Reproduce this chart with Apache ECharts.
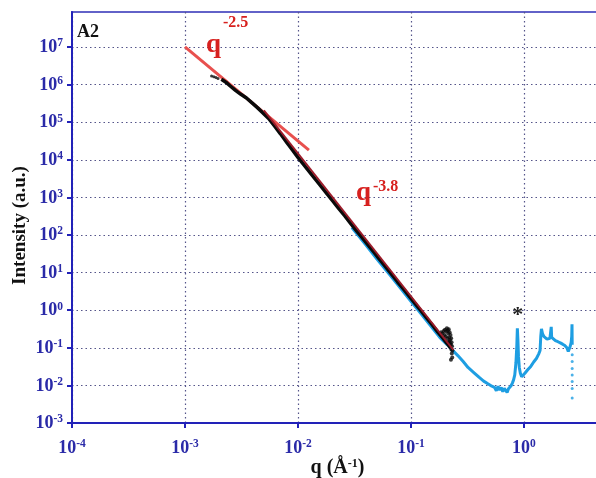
<!DOCTYPE html>
<html>
<head>
<meta charset="utf-8">
<script src="https://cdn.jsdelivr.net/npm/echarts@6/dist/echarts.min.js"></script>
<style>
  html, body { margin: 0; padding: 0; background: #ffffff; }
  #chart { width: 596px; height: 478px; }
</style>
</head>
<body>
<div id="chart"></div>
<script>
// ---- SAXS (black): main curve, q in 1/Å, intensity in a.u.
const saxsQ = [0.0021, 0.0023, 0.0025, 0.0028, 0.0031, 0.0035, 0.0039, 0.0044, 0.0049, 0.0055,
               0.0062, 0.0070, 0.0079, 0.0089, 0.0100, 0.0113, 0.0127, 0.0143, 0.0161, 0.0181,
               0.0204, 0.023, 0.026, 0.029, 0.033, 0.037, 0.042, 0.047, 0.053, 0.060,
               0.067, 0.076, 0.085, 0.096, 0.108, 0.122, 0.137, 0.154, 0.173, 0.190,
               0.205, 0.215, 0.225];
const saxsI = [1.38e6, 1.16e6, 9.3e5, 7.0e5, 5.6e5, 4.4e5, 3.3e5, 2.4e5, 1.76e5, 1.25e5,
               7.9e4, 4.9e4, 3.0e4, 1.86e4, 1.16e4, 7.3e3, 4.7e3, 3.0e3, 1.93e3, 1.24e3,
               790, 500, 320, 210, 129, 85, 53, 35, 22, 14,
               9.2, 5.7, 3.8, 2.4, 1.55, 0.98, 0.63, 0.41, 0.26, 0.185,
               0.14, 0.117, 0.098];
// isolated points at the lowest q
const saxsLowQ = [0.00172, 0.00180, 0.00188, 0.00196];
const saxsLowI = [1.7e6, 1.62e6, 1.55e6, 1.45e6];
// noisy high-q end of the SAXS range
const saxsTailQ = [0.185, 0.190, 0.195, 0.198, 0.200, 0.203, 0.205, 0.208, 0.210, 0.212,
                   0.214, 0.216, 0.218, 0.220, 0.222, 0.224, 0.226, 0.227, 0.228, 0.229,
                   0.230, 0.231, 0.232, 0.233, 0.226, 0.222, 0.218, 0.212];
const saxsTailI = [0.26, 0.24, 0.28, 0.22, 0.30, 0.20, 0.27, 0.33, 0.18, 0.29,
                   0.24, 0.31, 0.19, 0.26, 0.16, 0.22, 0.12, 0.18, 0.09, 0.14,
                   0.07, 0.11, 0.055, 0.085, 0.048, 0.13, 0.15, 0.14];

// ---- WAXS (blue)
const waxsQ = [0.030, 0.040, 0.050, 0.065, 0.080, 0.100, 0.120, 0.150, 0.180, 0.210,
               0.235, 0.260, 0.290, 0.320, 0.360, 0.400, 0.440, 0.480, 0.520, 0.550,
               0.570, 0.590, 0.610, 0.630, 0.650, 0.670, 0.690, 0.710, 0.730, 0.750,
               0.770, 0.790, 0.810, 0.830, 0.850, 0.865, 0.875, 0.885, 0.895, 0.910,
               0.930, 0.955, 0.980, 1.02, 1.08, 1.15, 1.22, 1.29, 1.35, 1.39,
               1.41, 1.43, 1.46, 1.50, 1.55, 1.60, 1.65, 1.70, 1.73, 1.745,
               1.76, 1.80, 1.90, 2.00, 2.10, 2.20, 2.30, 2.40, 2.47, 2.52,
               2.57, 2.62, 2.65, 2.665, 2.675];
const waxsI = [158, 54, 23, 8.7, 4.0, 1.73, 0.88, 0.38, 0.19, 0.12,
               0.085, 0.062, 0.043, 0.030, 0.022, 0.0165, 0.013, 0.011, 0.0095, 0.0088,
               0.0072, 0.0095, 0.0075, 0.0088, 0.0068, 0.0083, 0.0074, 0.0065, 0.0082, 0.0078,
               0.0098, 0.0115, 0.014, 0.019, 0.040, 0.11, 0.33, 0.16, 0.060, 0.030,
               0.021, 0.017, 0.018, 0.021, 0.026, 0.032, 0.042, 0.052, 0.068, 0.085,
               0.20, 0.32, 0.24, 0.20, 0.18, 0.17, 0.16, 0.18, 0.20, 0.36,
               0.19, 0.17, 0.155, 0.145, 0.135, 0.125, 0.115, 0.100, 0.080, 0.090,
               0.110, 0.140, 0.20, 0.42, 0.12];
// sparse points at the detector edge
const waxsEdgeQ = [2.675, 2.675, 2.675, 2.675, 2.675, 2.675, 2.675];
const waxsEdgeI = [0.065, 0.043, 0.028, 0.019, 0.0126, 0.0083, 0.0046];

// ---- power-law fits I = I0 (q / q0)^n
const fitExponents = [-2.5, -3.8];
const fitQRanges   = [[0.001, 0.0125], [0.005, 0.237]];
const fitAnchors   = [[0.001, 1.0e7], [0.237, 0.088]];

// ---- axes: decade ranges and labelled decades
const xRangeExp = [-4, 0.7];
const yRangeExp = [-3, 7.93];
const yDecades = [1e-3, 1e-2, 1e-1, 1e0, 1e1, 1e2, 1e3, 1e4, 1e5, 1e6, 1e7];

const SERIF = "'Liberation Serif', 'Times New Roman', serif";
const AXIS_BLUE = '#2222b8';
const LABEL_BLUE = '#2a2aa8';
const FIT_RED = '#e8504e';
const TEXT_RED = '#d7201e';

const pairs = (xs, ys) => xs.map((x, i) => [x, ys[i]]);

function fitLine(k) {
  const n = fitExponents[k];
  const [q0, i0] = fitAnchors[k];
  return fitQRanges[k].map(q => [q, i0 * Math.pow(q / q0, n)]);
}

function decadeLabel(v) {
  const e = Math.log10(v);
  const r = Math.round(e);
  if (Math.abs(e - r) > 1e-6) return '';
  return '{b|10}{s|' + r + '}';
}

const tickRich = {
  b: { fontFamily: SERIF, fontWeight: 'bold', fontSize: 18, color: LABEL_BLUE, verticalAlign: 'bottom', lineHeight: 19 },
  s: { fontFamily: SERIF, fontWeight: 'bold', fontSize: 11.5, color: LABEL_BLUE, verticalAlign: 'top', lineHeight: 12 }
};

function powRich(qLineHeight) {
  return {
    q: { fontFamily: SERIF, fontWeight: 'bold', fontSize: 27, color: TEXT_RED, verticalAlign: 'bottom', lineHeight: qLineHeight },
    e: { fontFamily: SERIF, fontWeight: 'bold', fontSize: 16, color: TEXT_RED, verticalAlign: 'top', lineHeight: 16, padding: [0, 0, 0, 2] }
  };
}

const gridLine = { show: true, lineStyle: { color: '#55558a', width: 1.2, type: [1.5, 3] } };

const chart = echarts.init(document.getElementById('chart'), null, { renderer: 'canvas' });

chart.setOption({
  animation: false,
  backgroundColor: '#ffffff',
  title: {
    text: 'A2', left: 77, top: 23, padding: 0,
    textStyle: { fontFamily: SERIF, fontWeight: 'bold', fontSize: 18, color: '#111111' }
  },
  grid: {
    left: 72, top: 12, width: 531, height: 411,
    containLabel: false, outerBoundsMode: 'none',
    show: true, borderColor: '#6262c8', borderWidth: 2
  },
  xAxis: {
    type: 'log', logBase: 10,
    min: Math.pow(10, xRangeExp[0]), max: Math.pow(10, xRangeExp[1]),
    interval: 1,
    name: '{n|q (Å}{s|-1}{n|)}',
    nameLocation: 'middle', nameGap: 35, nameMoveOverlap: false,
    nameTextStyle: {
      rich: {
        n: { fontFamily: SERIF, fontWeight: 'bold', fontSize: 20, color: '#111111', verticalAlign: 'bottom', lineHeight: 20 },
        s: { fontFamily: SERIF, fontWeight: 'bold', fontSize: 12, color: '#111111', verticalAlign: 'top', lineHeight: 12 }
      }
    },
    axisLine: { show: true, lineStyle: { color: AXIS_BLUE, width: 2 } },
    axisTick: { show: true, inside: false, length: 5, lineStyle: { color: AXIS_BLUE, width: 2 } },
    axisLabel: { formatter: decadeLabel, margin: 15, rich: tickRich },
    splitLine: gridLine,
    minorTick: { show: false },
    minorSplitLine: { show: false }
  },
  yAxis: {
    type: 'log', logBase: 10,
    min: Math.pow(10, yRangeExp[0]), max: Math.pow(10, yRangeExp[1]),
    interval: 1,
    name: 'Intensity (a.u.)',
    nameLocation: 'middle', nameGap: 42, nameMoveOverlap: false,
    nameTextStyle: { fontFamily: SERIF, fontWeight: 'bold', fontSize: 19, color: '#111111', padding: [0, 16, 0, 0] },
    axisLine: { show: true, lineStyle: { color: AXIS_BLUE, width: 2 } },
    axisTick: { show: true, inside: false, length: 5, customValues: yDecades, lineStyle: { color: AXIS_BLUE, width: 2 } },
    axisLabel: { formatter: decadeLabel, margin: 9, rich: tickRich },
    splitLine: gridLine,
    minorTick: { show: false },
    minorSplitLine: { show: false }
  },
  series: [
    {
      name: 'WAXS', type: 'line', data: pairs(waxsQ, waxsI),
      showSymbol: false, z: 2,
      lineStyle: { color: '#1e9ee2', width: 3 },
      markPoint: {
        symbol: 'circle', symbolSize: 0.1,
        itemStyle: { color: 'transparent' },
        label: { show: true, position: 'inside', formatter: '*', fontFamily: SERIF, fontWeight: 'bold', fontSize: 22, color: '#222222' },
        data: [{ coord: [0.88, 0.72] }]
      }
    },
    {
      name: 'WAXS edge', type: 'scatter', data: pairs(waxsEdgeQ, waxsEdgeI),
      symbolSize: 3, z: 2, itemStyle: { color: '#1e9ee2' }
    },
    {
      name: 'fit -2.5', type: 'line', data: fitLine(0),
      showSymbol: false, z: 3,
      lineStyle: { color: FIT_RED, width: 3 },
      markPoint: {
        symbol: 'circle', symbolSize: 0.1,
        itemStyle: { color: 'transparent' },
        label: { show: true, position: 'right', distance: 0, formatter: '{q|q}{e|-2.5}', rich: powRich(43) },
        data: [{ coord: [0.00153, 1.88e7] }]
      }
    },
    {
      name: 'SAXS', type: 'line', data: pairs(saxsQ, saxsI),
      showSymbol: false, z: 4,
      lineStyle: { color: '#0a0a0a', width: 3.5 }
    },
    {
      name: 'SAXS low q', type: 'scatter', data: pairs(saxsLowQ, saxsLowI),
      symbolSize: 3, z: 4, itemStyle: { color: '#0a0a0a' }
    },
    {
      name: 'SAXS tail', type: 'scatter', data: pairs(saxsTailQ, saxsTailI),
      symbolSize: 4, z: 4, itemStyle: { color: '#0a0a0a' }
    },
    {
      name: 'fit -3.8', type: 'line', data: fitLine(1),
      showSymbol: false, z: 5,
      lineStyle: { color: '#9c1c2a', width: 1.8 },
      markPoint: {
        symbol: 'circle', symbolSize: 0.1,
        itemStyle: { color: 'transparent' },
        label: { show: true, position: 'right', distance: 0, formatter: '{q|q}{e|-3.8}', rich: powRich(28) },
        data: [{ coord: [0.0326, 1330] }]
      }
    }
  ]
});
</script>
</body>
</html>
